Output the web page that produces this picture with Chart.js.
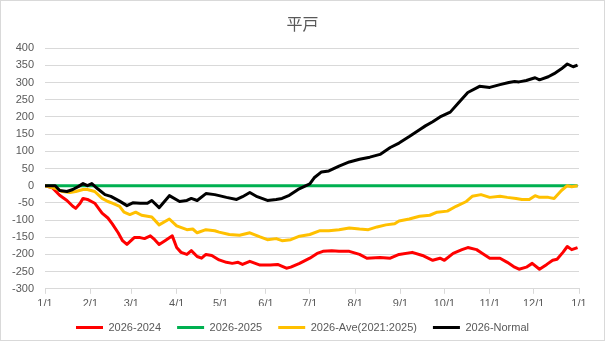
<!DOCTYPE html>
<html lang="ja">
<head>
    <meta charset="UTF-8">
    <title>平戸</title>
    <script src="https://cdn.jsdelivr.net/npm/chart.js"></script>
    <style>
        html, body { margin: 0; padding: 0; background: #fff; }
        .chart-box {
            position: relative;
            width: 605px;
            height: 341px;
            box-sizing: border-box;
            border: 1px solid #d9d9d9;
        }
        .chart-box canvas { position: absolute; left: -1px; top: -1px; }
    </style>
</head>
<body>

    <div class="chart-box">
        <canvas id="hiradoChart" width="605" height="341"></canvas>
    </div>

    <script>
        // month boundaries in day-of-year (last one = next 1/1)
        const monthDays = [0, 31, 59, 90, 120, 151, 181, 212, 243, 273, 304, 334, 365];
        const monthLabels = ["1/1", "2/1", "3/1", "4/1", "5/1", "6/1", "7/1", "8/1", "9/1", "10/1", "11/1", "12/1", "1/1"];

        const seriesNames = ["2026-2024", "2026-2025", "2026-Ave(2021:2025)", "2026-Normal"];

        // 2026-2024
        const diff2024Days = [0, 5, 10, 15, 19, 21, 24, 26, 29, 34, 39, 43, 46, 50, 53, 56, 61, 65, 68, 72, 75, 78, 82, 87, 90, 93, 97, 100, 104, 107, 110, 114, 119, 124, 128, 132, 135, 140, 147, 154, 159, 165, 168, 174, 181, 186, 190, 196, 201, 208, 215, 220, 229, 236, 242, 251, 258, 265, 270, 273, 279, 285, 289, 295, 299, 304, 311, 316, 321, 324, 329, 333, 338, 343, 347, 350, 354, 357, 360, 364];
        const diff2024 = [0, -6, -28, -43, -60, -66, -51, -37, -40, -51, -80, -94, -111, -137, -160, -171, -151, -151, -154, -146, -157, -171, -160, -146, -180, -194, -200, -189, -206, -211, -200, -203, -216, -223, -226, -223, -229, -220, -231, -231, -229, -240, -237, -226, -211, -197, -191, -189, -191, -191, -200, -211, -209, -211, -200, -194, -203, -217, -211, -217, -197, -186, -180, -186, -197, -211, -211, -223, -237, -243, -237, -226, -243, -229, -217, -214, -194, -177, -186, -180];

        // 2026-2025
        const diff2025Days = [0, 364];
        const diff2025 = [0, 0];

        // 2026-Ave(2021:2025)
        const diffAveDays = [0, 8, 12, 17, 21, 26, 29, 34, 39, 43, 46, 51, 54, 58, 62, 66, 73, 78, 85, 90, 97, 101, 104, 110, 116, 119, 126, 133, 140, 147, 152, 158, 162, 168, 174, 181, 188, 194, 201, 208, 215, 221, 227, 233, 239, 242, 249, 256, 263, 268, 275, 281, 288, 292, 298, 304, 311, 316, 322, 326, 331, 335, 338, 344, 348, 353, 357, 360, 364];
        const diffAve = [0, -9, -17, -20, -17, -11, -11, -17, -37, -46, -51, -60, -77, -84, -77, -86, -91, -114, -97, -117, -128, -126, -137, -128, -131, -135, -142, -144, -137, -149, -157, -154, -160, -157, -147, -142, -131, -131, -128, -123, -126, -128, -120, -114, -111, -103, -97, -89, -86, -77, -74, -60, -46, -31, -26, -34, -31, -34, -37, -40, -40, -29, -34, -34, -37, -14, 0, -3, 0];

        // 2026-Normal
        const diffNormalDays = [0, 3, 7, 10, 15, 19, 23, 26, 29, 32, 36, 41, 45, 51, 56, 60, 65, 70, 73, 78, 85, 92, 97, 100, 104, 110, 116, 119, 124, 131, 135, 140, 145, 152, 158, 162, 167, 173, 177, 181, 184, 189, 194, 201, 208, 215, 222, 229, 236, 242, 249, 256, 260, 265, 270, 277, 283, 289, 297, 304, 311, 317, 321, 324, 329, 335, 338, 344, 348, 353, 357, 361, 364];
        const diffNormal = [0, 0, 0, -14, -17, -11, -2, 6, 0, 6, -9, -26, -31, -45, -58, -50, -51, -51, -43, -64, -29, -46, -43, -37, -43, -23, -26, -29, -34, -40, -32, -20, -32, -43, -40, -37, -28, -11, -3, 5, 23, 40, 43, 57, 69, 77, 83, 91, 111, 124, 143, 163, 174, 186, 200, 214, 243, 271, 289, 286, 294, 300, 303, 302, 306, 314, 308, 317, 326, 340, 354, 346, 351];

        const yMin = -300, yMax = 400, yStep = 50;

        const lineColors = ["#ff0000", "#00b050", "#ffc000", "#000000"];

        function toPoints(days, values) {
            return days.map((d, i) => ({ x: d, y: values[i] }));
        }

        function makeSet(idx, days, values, order) {
            return {
                label: seriesNames[idx],
                data: toPoints(days, values),
                borderColor: lineColors[idx],
                backgroundColor: lineColors[idx],
                borderWidth: 3,
                pointRadius: 0,
                tension: 0,
                borderJoinStyle: "round",
                order: order
            };
        }

        const textColor = "#595959";
        const gridColor = "#d9d9d9";
        const labelFont = { family: "'Liberation Sans', Arial, sans-serif", size: 11 };

        const ctx = document.getElementById("hiradoChart").getContext("2d");
        new Chart(ctx, {
            type: "line",
            data: {
                datasets: [
                    makeSet(0, diff2024Days, diff2024, 3),
                    makeSet(1, diff2025Days, diff2025, 2),
                    makeSet(2, diffAveDays, diffAve, 1),
                    makeSet(3, diffNormalDays, diffNormal, 0)
                ]
            },
            options: {
                responsive: false,
                animation: false,
                layout: {
                    padding: { top: 10, left: 0, right: 0, bottom: -2 }
                },
                plugins: {
                    title: {
                        display: true,
                        text: "平戸",
                        color: textColor,
                        font: { family: "'Noto Sans CJK JP', sans-serif", size: 16, weight: "normal" },
                        padding: { top: 4, bottom: 15 }
                    },
                    legend: {
                        position: "bottom",
                        labels: {
                            color: textColor,
                            font: labelFont,
                            usePointStyle: true,
                            pointStyle: "line",
                            pointStyleWidth: 27,
                            padding: 16,
                            sort: (a, b) => a.datasetIndex - b.datasetIndex
                        }
                    },
                    tooltip: { enabled: false }
                },
                scales: {
                    x: {
                        type: "linear",
                        min: 0,
                        max: 365,
                        afterBuildTicks: (axis) => {
                            axis.ticks = monthDays.map(v => ({ value: v }));
                        },
                        // let the legend sit closer to the axis labels
                        afterFit: (axis) => { axis.height = axis.height - 9; },
                        ticks: {
                            color: textColor,
                            font: labelFont,
                            padding: 4,
                            maxRotation: 0,
                            autoSkip: false,
                            callback: (value, index) => monthLabels[index]
                        },
                        grid: {
                            drawOnChartArea: false,
                            drawTicks: true,
                            tickLength: 5,
                            color: gridColor
                        },
                        border: { color: gridColor }
                    },
                    y: {
                        min: yMin,
                        max: yMax,
                        afterFit: (axis) => { axis.width = 45; },
                        ticks: {
                            stepSize: yStep,
                            color: textColor,
                            font: labelFont,
                            padding: 11
                        },
                        grid: {
                            drawTicks: false,
                            color: gridColor
                        },
                        border: { display: false }
                    },
                    // empty right margin so title and legend centre on the full width
                    yRight: {
                        position: "right",
                        min: 0,
                        max: 1,
                        afterFit: (axis) => { axis.width = 26; },
                        ticks: { display: false },
                        grid: { display: false },
                        border: { display: false }
                    }
                }
            }
        });
    </script>

</body>
</html>
